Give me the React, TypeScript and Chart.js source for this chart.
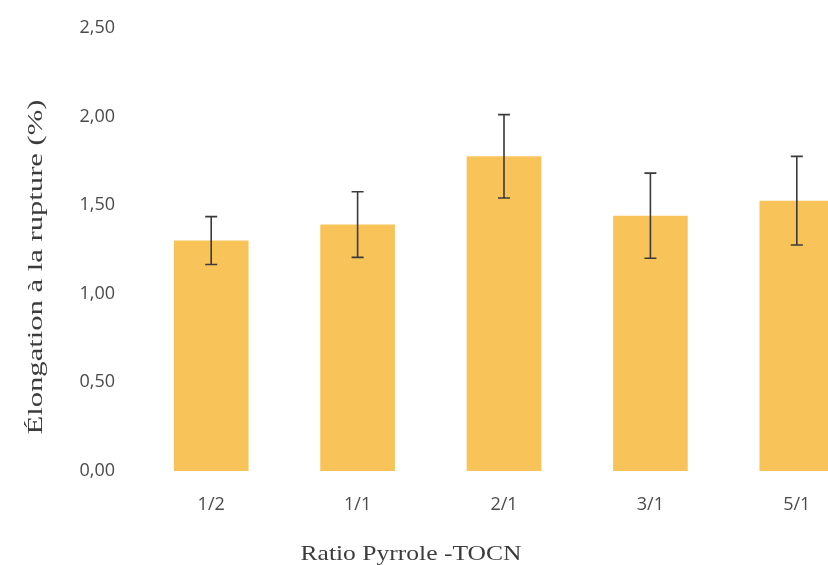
import React, { useEffect, useRef } from "react";
import { Chart, registerables } from "chart.js";

Chart.register(...registerables);

const categories = ["1/2", "1/1", "2/1", "3/1", "5/1"];
const values = [1.3, 1.39, 1.775, 1.44, 1.525];
const errors = [0.135, 0.185, 0.235, 0.24, 0.25];
const yMin = 0;
const yMax = 2.5;
const yStep = 0.5;
const yTitle = "Élongation à la rupture (%)";
const xTitle = "Ratio Pyrrole -TOCN";

const SHIFT = 6;

const errorBarPlugin = {
  id: "errorBars",
  afterDatasetsDraw(chart: any) {
    const meta = chart.getDatasetMeta(0);
    const y = chart.scales.y;
    const ctx = chart.ctx;
    ctx.save();
    ctx.strokeStyle = "#3a3a3a";
    ctx.lineWidth = 1.6;
    meta.data.forEach((bar: any, i: number) => {
      const x = bar.x;
      const top = y.getPixelForValue(values[i] + errors[i]);
      const bot = y.getPixelForValue(values[i] - errors[i]);
      ctx.beginPath();
      ctx.moveTo(x, top);
      ctx.lineTo(x, bot);
      ctx.moveTo(x - 6, top);
      ctx.lineTo(x + 6, top);
      ctx.moveTo(x - 6, bot);
      ctx.lineTo(x + 6, bot);
      ctx.stroke();
    });
    ctx.restore();
  },
};

function drawStretched(ctx: any, text: string, length: number) {
  const w = ctx.measureText(text).width;
  const s = length / w;
  ctx.scale(s, 1);
  ctx.fillText(text, 0, 0);
}

const titlesPlugin = {
  id: "axisTitles",
  afterDraw(chart: any) {
    const ctx = chart.ctx;
    ctx.save();
    ctx.fillStyle = "#3c3c3c";
    ctx.font = "21px 'Liberation Serif', 'Times New Roman', serif";
    ctx.textAlign = "center";
    ctx.textBaseline = "alphabetic";
    ctx.save();
    ctx.translate(42, 267 + SHIFT);
    ctx.rotate(-Math.PI / 2);
    drawStretched(ctx, yTitle, 335);
    ctx.restore();
    ctx.save();
    ctx.translate(411, 560 + SHIFT);
    drawStretched(ctx, xTitle, 221);
    ctx.restore();
    ctx.restore();
  },
};

export default function App() {
  const ref = useRef<HTMLCanvasElement>(null);
  useEffect(() => {
    if (!ref.current) return;
    const chart = new Chart(ref.current, {
      type: "bar",
      data: {
        labels: categories,
        datasets: [
          {
            data: values,
            backgroundColor: "#F8C45A",
            borderWidth: 0,
            barPercentage: 0.51,
            categoryPercentage: 1,
          },
        ],
      },
      options: {
        animation: false,
        responsive: false,
        maintainAspectRatio: false,
        layout: { padding: { top: 20, left: 0, right: 10, bottom: 0 } },
        plugins: {
          legend: { display: false },
          tooltip: { enabled: false },
        },
        scales: {
          x: {
            grid: { display: false, drawTicks: false },
            border: { display: false },
            ticks: {
              color: "#4a4a4a",
              font: { family: "'Open Sans', sans-serif", size: 18 },
              padding: 23,
            },
            afterFit(scale: any) {
              scale.height = 94;
            },
          },
          y: {
            min: yMin,
            max: yMax,
            grid: { display: false, drawTicks: false },
            border: { display: false },
            ticks: {
              stepSize: yStep,
              color: "#4a4a4a",
              font: { family: "'Open Sans', sans-serif", size: 18 },
              padding: 23,
              callback: (v: any) => Number(v).toFixed(2).replace(".", ","),
            },
            afterFit(scale: any) {
              scale.width = 138;
            },
          },
        },
      },
      plugins: [errorBarPlugin, titlesPlugin],
    });
    return () => chart.destroy();
  }, []);
  return (
    <div
      style={{
        position: "fixed",
        left: 0,
        top: 0,
        width: 828,
        height: 565,
        overflow: "hidden",
        background: "#ffffff",
      }}
    >
      <canvas
        ref={ref}
        width={880}
        height={565 + SHIFT}
        style={{ width: 880, height: 565 + SHIFT, display: "block", marginTop: -SHIFT }}
      />
    </div>
  );
}
